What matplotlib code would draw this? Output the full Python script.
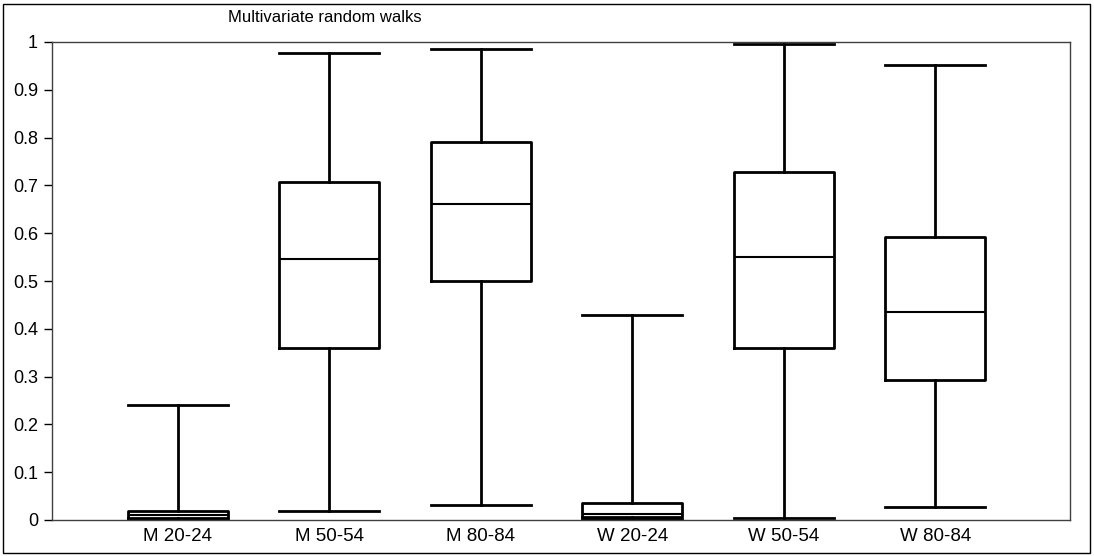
import matplotlib
matplotlib.use('Agg')
import matplotlib.pyplot as plt
from matplotlib.patches import Rectangle

plt.rcParams['font.family'] = ['Liberation Sans', 'DejaVu Sans']

groups = ['M 20-24', 'M 50-54', 'M 80-84', 'W 20-24', 'W 50-54', 'W 80-84']
whisk_lo = [0.003, 0.018, 0.032, 0.003, 0.004, 0.027]
q1 = [0.005, 0.360, 0.500, 0.006, 0.360, 0.293]
median = [0.010, 0.545, 0.662, 0.013, 0.550, 0.436]
q3 = [0.018, 0.707, 0.790, 0.036, 0.727, 0.593]
whisk_hi = [0.240, 0.977, 0.985, 0.428, 0.995, 0.951]
yticks = [0, 0.1, 0.2, 0.3, 0.4, 0.5, 0.6, 0.7, 0.8, 0.9, 1]
ytick_labels = ['0', '0.1', '0.2', '0.3', '0.4', '0.5', '0.6', '0.7', '0.8', '0.9', '1']

stats = []
for i, g in enumerate(groups):
    stats.append({'label': g, 'whislo': whisk_lo[i], 'q1': q1[i], 'med': median[i],
                  'q3': q3[i], 'whishi': whisk_hi[i], 'fliers': []})

fig = plt.figure(figsize=(10.94, 5.56), dpi=100)
ax = fig.add_axes([52 / 1094, 36 / 556, 1018 / 1094, 478 / 556])

positions = list(range(1, len(groups) + 1))
ax.bxp(stats, positions=positions, widths=0.66, capwidths=0.66,
       boxprops=dict(color='black', linewidth=2),
       whiskerprops=dict(color='black', linewidth=2),
       capprops=dict(color='black', linewidth=2),
       medianprops=dict(color='black', linewidth=1.5),
       showfliers=False)

ax.set_xlim(0.17, 6.89)
ax.set_ylim(0, 1)
ax.set_yticks(yticks)
ax.set_yticklabels(ytick_labels)
ax.tick_params(axis='y', direction='out', length=6, width=1, labelsize=13, pad=4)
ax.tick_params(axis='x', length=0, labelsize=13.5, pad=6)
for sp in ax.spines.values():
    sp.set_linewidth(1)
    sp.set_color('#404040')

fig.text(325 / 1094, 1 - 18 / 556, 'Multivariate random walks', ha='center', va='center', fontsize=12)

# outer frame around the whole figure
fig.patches.append(Rectangle((3 / 1094, 3 / 556), 1087 / 1094, 549 / 556,
                             transform=fig.transFigure, fill=False,
                             edgecolor='black', linewidth=1))

fig.savefig('out.png', dpi=100)
